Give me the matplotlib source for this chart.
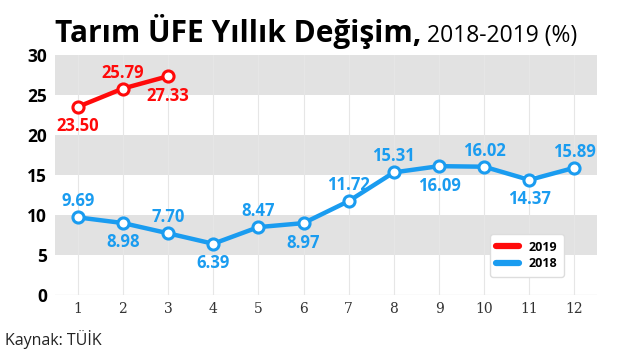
import matplotlib.pyplot as plt

months = list(range(1, 13))
vals_2018 = [9.69, 8.98, 7.70, 6.39, 8.47, 8.97, 11.72, 15.31, 16.09, 16.02, 14.37, 15.89]
vals_2019 = [23.50, 25.79, 27.33]
# label side: 1 above, -1 below
side_2018 = [1, -1, 1, -1, 1, -1, 1, 1, -1, 1, -1, 1]
side_2019 = [-1, 1, -1]

blue = '#1a9cf0'
red = '#ff0a0a'

plt.rcParams['font.family'] = ['Open Sans', 'DejaVu Sans']

fig = plt.figure(figsize=(6.2, 3.54), dpi=100)
ax = fig.add_axes([0.089, 0.167, 0.874, 0.678])

# grey bands
for lo in (5, 15, 25):
    ax.axhspan(lo, lo + 5, color='#e2e2e2', zorder=0, lw=0)

ax.set_xlim(0.5, 12.5)
ax.set_ylim(0, 30)
ax.set_xticks(months)
ax.set_yticks(range(0, 31, 5))
for m in months:
    ax.axvline(m, color='#e6e6e6', lw=0.8, zorder=0.5)

for s in ax.spines.values():
    s.set_visible(False)
ax.axhline(0, color='#e6e6e6', lw=1, zorder=0.5)
ax.tick_params(length=0)
ax.tick_params(axis='y', pad=6)
ax.tick_params(axis='x', pad=5)
for t in ax.get_yticklabels():
    t.set_fontweight('bold')
    t.set_fontsize(12.5)
for t in ax.get_xticklabels():
    t.set_fontfamily('DejaVu Serif')
    t.set_fontsize(10)
    t.set_color('#333333')

ax.plot(months, vals_2018, color=blue, lw=3.2, marker='o', ms=8,
        mfc='white', mec=blue, mew=2.2, label='2018', zorder=3, solid_capstyle='round')
ax.plot(months[:3], vals_2019, color=red, lw=3.2, marker='o', ms=8,
        mfc='white', mec=red, mew=2.2, label='2019', zorder=3, solid_capstyle='round')


def offset(s):
    return 11.5 if s > 0 else -14


for x, v, s in zip(months, vals_2018, side_2018):
    ax.annotate(f'{v:.2f}', (x, v), xytext=(0, offset(s)), textcoords='offset points',
                ha='center', va='center', color=blue, fontweight='bold', fontsize=12)
for x, v, s in zip(months, vals_2019, side_2019):
    ax.annotate(f'{v:.2f}', (x, v), xytext=(0, offset(s)), textcoords='offset points',
                ha='center', va='center', color=red, fontweight='bold', fontsize=12)

h, l = ax.get_legend_handles_labels()
leg = ax.legend(h[::-1], l[::-1], loc='lower right', bbox_to_anchor=(0.95, 0.05),
                prop={'weight': 'bold', 'size': 9}, handlelength=1.8,
                frameon=True, fancybox=True, framealpha=1, edgecolor='#dddddd',
                labelspacing=0.3, borderpad=0.5)
for line in leg.get_lines():
    line.set_marker('')
    line.set_linewidth(4.5)

title = fig.text(0.088, 0.88, 'Tarım ÜFE Yıllık Değişim,', fontsize=21.5, fontweight='bold',
                 ha='left', va='baseline')
fig.canvas.draw()
bb = title.get_window_extent().transformed(fig.transFigure.inverted())
fig.text(bb.x1 + 0.01, 0.88, '2018-2019 (%)', fontsize=16.5, ha='left', va='baseline')
fig.text(0.008, 0.025, 'Kaynak: TÜİK', fontsize=11.5, ha='left', va='baseline', color='#222222')

fig.savefig('out.png', dpi=100)
